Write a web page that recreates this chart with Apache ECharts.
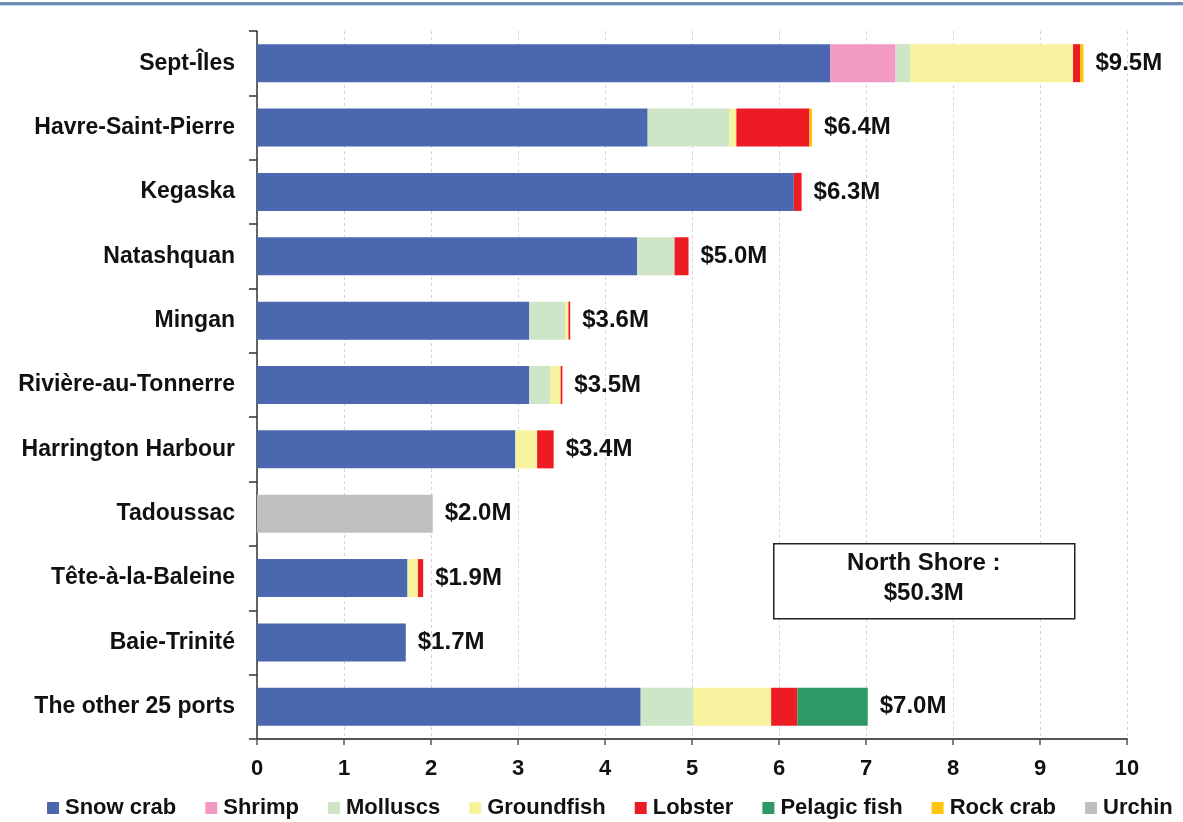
<!DOCTYPE html>
<html>
<head>
<meta charset="utf-8">
<script src="https://cdn.jsdelivr.net/npm/echarts@6/dist/echarts.min.js"></script>
<style>
  html, body { margin: 0; padding: 0; background: #fff; }
  #chart { width: 1183px; height: 822px; }
</style>
</head>
<body>
<div id="chart"></div>
<script>
// Landed value by port, North Shore (millions of dollars)
const ports = [
  'Sept-Îles', 'Havre-Saint-Pierre', 'Kegaska', 'Natashquan', 'Mingan',
  'Rivière-au-Tonnerre', 'Harrington Harbour', 'Tadoussac',
  'Tête-à-la-Baleine', 'Baie-Trinité', 'The other 25 ports'
];
const snowCrab    = [6.59, 4.49, 6.17, 4.37, 3.13, 3.13, 2.97, 0,    1.73, 1.71, 4.41];
const shrimp      = [0.75, 0,    0,    0,    0,    0,    0,    0,    0,    0,    0];
const molluscs    = [0.17, 0.94, 0,    0.43, 0.41, 0.24, 0,    0,    0,    0,    0.61];
const groundfish  = [1.87, 0.08, 0,    0,    0.04, 0.12, 0.25, 0,    0.12, 0,    0.89];
const lobster     = [0.08, 0.84, 0.09, 0.16, 0.02, 0.02, 0.19, 0,    0.06, 0,    0.30];
const pelagicFish = [0,    0,    0,    0,    0,    0,    0,    0,    0,    0,    0.81];
const rockCrab    = [0.04, 0.03, 0,    0,    0,    0,    0,    0,    0,    0,    0];
const urchin      = [0,    0,    0,    0,    0,    0,    0,    2.02, 0,    0,    0];
const xTicks = [0, 1, 2, 3, 4, 5, 6, 7, 8, 9, 10];
const regionTotalLabel = ['North Shore :', '$50.3M'];

const speciesSeries = [
  { name: 'Snow crab',    data: snowCrab,    color: '#4a67b0' },
  { name: 'Shrimp',       data: shrimp,      color: '#f29ac3' },
  { name: 'Molluscs',     data: molluscs,    color: '#cfe5c7' },
  { name: 'Groundfish',   data: groundfish,  color: '#f7f29d' },
  { name: 'Lobster',      data: lobster,     color: '#ed1c24' },
  { name: 'Pelagic fish', data: pelagicFish, color: '#2e9966' },
  { name: 'Rock crab',    data: rockCrab,    color: '#ffc20e' },
  { name: 'Urchin',       data: urchin,      color: '#bfbfbf' }
];

// Port totals = sum of all species segments
const totals = ports.map((_, i) =>
  speciesSeries.reduce((s, sp) => s + sp.data[i], 0));

const FONT = '"Liberation Sans", Arial, Helvetica, sans-serif';
const BAR_W = 38;

const series = speciesSeries.map(sp => ({
  name: sp.name,
  type: 'bar',
  stack: 'value',
  barWidth: BAR_W,
  data: sp.data,
  itemStyle: { color: sp.color },
  emphasis: { disabled: true }
}));

// Transparent overlay carrying the total label at the end of each bar
series.push({
  name: 'total',
  type: 'bar',
  barWidth: BAR_W,
  barGap: '-100%',
  z: 1,
  data: totals,
  itemStyle: { color: 'rgba(0,0,0,0)' },
  silent: true,
  label: {
    show: true,
    position: 'right',
    distance: 12,
    color: '#111',
    fontFamily: FONT,
    fontWeight: 'bold',
    fontSize: 24,
    formatter: p => '$' + p.value.toFixed(1) + 'M'
  }
});

const chart = echarts.init(document.getElementById('chart'), null, { renderer: 'canvas' });
chart.setOption({
  animation: false,
  backgroundColor: '#fff',
  grid: { left: 257, right: 56, top: 31, bottom: 83, containLabel: false },
  xAxis: {
    type: 'value',
    min: xTicks[0],
    max: xTicks[xTicks.length - 1],
    interval: 1,
    axisLine: { show: true, lineStyle: { color: '#555', width: 2 } },
    axisTick: { show: true, length: 6, lineStyle: { color: '#555', width: 1.5 } },
    axisLabel: {
      color: '#111', fontFamily: FONT, fontWeight: 'bold', fontSize: 22, margin: 19
    },
    splitLine: { show: true, lineStyle: { color: '#d4d4d4', type: [3, 3], width: 1 } }
  },
  yAxis: {
    type: 'category',
    data: ports,
    inverse: true,
    axisLine: { show: true, lineStyle: { color: '#333', width: 1.5 } },
    axisTick: { show: true, length: 8, lineStyle: { color: '#333', width: 1.5 } },
    axisLabel: {
      color: '#111', fontFamily: FONT, fontWeight: 'bold', fontSize: 23, margin: 22
    }
  },
  legend: {
    data: speciesSeries.map(s => s.name),
    orient: 'horizontal',
    bottom: -2,
    left: 42,
    width: 1300,
    icon: 'rect',
    itemWidth: 12,
    itemHeight: 12,
    itemGap: 29,
    textStyle: { color: '#111', fontFamily: FONT, fontWeight: 'bold', fontSize: 22, padding: [0, 0, 0, 1] }
  },
  graphic: [
    {
      type: 'rect',
      left: 0, top: 2,
      shape: { width: 1183, height: 3 },
      style: { fill: '#6d8fb5' },
      silent: true
    },
    {
      type: 'rect',
      left: 0, top: 5,
      shape: { width: 1183, height: 1 },
      style: { fill: '#c5d6e8' },
      silent: true
    },
    {
      type: 'group',
      left: 773, top: 543,
      z: 100,
      children: [
        {
          type: 'rect',
          z: 100,
          shape: { x: 0, y: 0, width: 301, height: 75 },
          style: { fill: '#fff', stroke: '#222', lineWidth: 1.5 }
        },
        {
          type: 'text',
          z: 101,
          x: 150, y: 20,
          style: {
            text: regionTotalLabel[0], align: 'center', verticalAlign: 'middle',
            fill: '#111', font: 'bold 24px ' + FONT
          }
        },
        {
          type: 'text',
          z: 101,
          x: 150, y: 50,
          style: {
            text: regionTotalLabel[1], align: 'center', verticalAlign: 'middle',
            fill: '#111', font: 'bold 24px ' + FONT
          }
        }
      ]
    }
  ],
  series: series
});
</script>
</body>
</html>
